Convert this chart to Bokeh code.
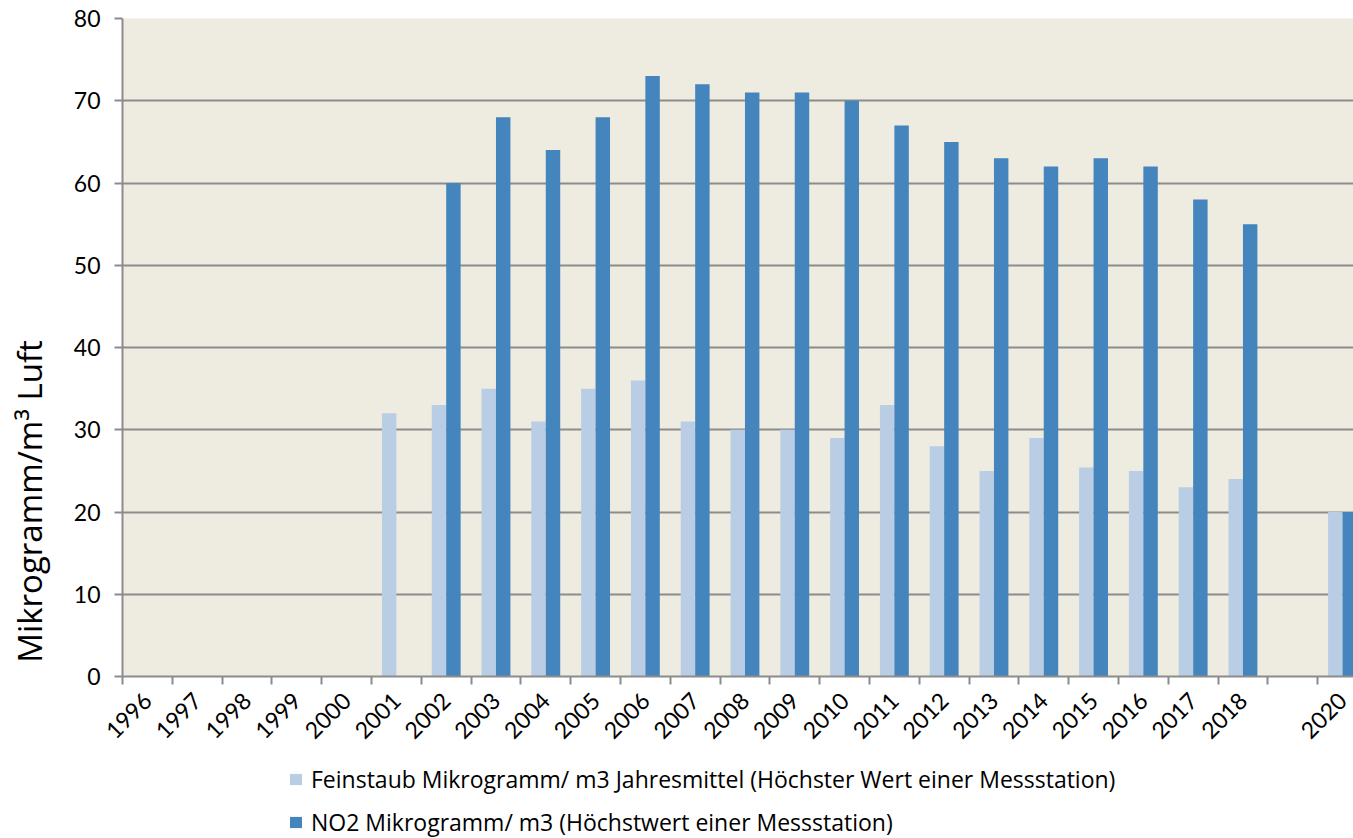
import math
from bokeh.plotting import figure
from bokeh.layouts import row, column
from bokeh.models import (Range1d, FixedTicker, Legend, LegendItem, Label,
                          ColumnDataSource)
from bokeh.embed import file_html
from bokeh.resources import INLINE

# ---- data -------------------------------------------------------------
years = ["1996", "1997", "1998", "1999", "2000", "2001", "2002", "2003",
         "2004", "2005", "2006", "2007", "2008", "2009", "2010", "2011",
         "2012", "2013", "2014", "2015", "2016", "2017", "2018", "", "2020"]
feinstaub = [None, None, None, None, None, 32, 33, 35, 31, 35, 36, 31, 30,
             30, 29, 33, 28, 25, 29, 25.4, 25, 23, 24, None, 20]
no2 = [None, None, None, None, None, None, 60, 68, 64, 68, 73, 72, 71, 71,
       70, 67, 65, 63, 62, 63, 62, 58, 55, None, 20]
yticks = [0, 10, 20, 30, 40, 50, 60, 70, 80]

label_fs = "Feinstaub Mikrogramm/ m3 Jahresmittel (Höchster Wert einer Messstation)"
label_no2 = "NO2 Mikrogramm/ m3 (Höchstwert einer Messstation)"
ylabel = "Mikrogramm/m³ Luft"

# ---- style ------------------------------------------------------------
FONT = "Lato"
FONT2 = "Open Sans"
LIGHT = "#B9CDE5"
DARK = "#4485BD"
GRID = "#8C8C8C"
BG = "#EEEBE0"
BAR_W = 0.29
LEFT_W = 60
MAIN_H = 760
TOTAL_W, TOTAL_H = 1353, 838

centers = [i + 0.5 for i in range(len(years))]
bounds = [float(i) for i in range(len(years) + 1)]

src_fs = ColumnDataSource(dict(
    x=[c - BAR_W / 2 for c, v in zip(centers, feinstaub) if v is not None],
    top=[v for v in feinstaub if v is not None]))
src_no2 = ColumnDataSource(dict(
    x=[c + BAR_W / 2 for c, v in zip(centers, no2) if v is not None],
    top=[v for v in no2 if v is not None]))

# ---- main chart ---------------------------------------------------------
p = figure(width=TOTAL_W - LEFT_W, height=MAIN_H, output_backend="svg",
           toolbar_location=None,
           x_range=Range1d(0, 24.72), y_range=Range1d(0, 80),
           min_border_left=122 - LEFT_W, min_border_right=0, min_border_top=18,
           min_border_bottom=MAIN_H - 676, background_fill_color=BG,
           border_fill_color="white", outline_line_color=None)

p.vbar(x="x", top="top", bottom=0, width=BAR_W, source=src_fs,
       fill_color=LIGHT, line_color=None)
p.vbar(x="x", top="top", bottom=0, width=BAR_W, source=src_no2,
       fill_color=DARK, line_color=None)

p.xgrid.visible = False
p.ygrid.ticker = FixedTicker(ticks=yticks)
p.ygrid.grid_line_color = GRID
p.ygrid.grid_line_width = 2
p.ygrid.level = "underlay"

ya = p.yaxis[0]
ya.ticker = FixedTicker(ticks=yticks)
ya.axis_line_color = GRID
ya.axis_line_width = 2
ya.major_tick_line_color = GRID
ya.major_tick_line_width = 2
ya.major_tick_out = 8
ya.major_tick_in = 0
ya.minor_tick_line_color = None
ya.major_label_standoff = 14
ya.major_label_text_font = FONT
ya.major_label_text_font_size = "23px"
ya.major_label_text_color = "black"

xa = p.xaxis[0]
xa.ticker = FixedTicker(ticks=centers, minor_ticks=bounds)
xa.major_label_overrides = {c: y for c, y in zip(centers, years)}
xa.major_tick_line_color = None
xa.major_tick_out = 0
xa.major_tick_in = 0
xa.minor_tick_line_color = GRID
xa.minor_tick_line_width = 2
xa.minor_tick_out = 8
xa.minor_tick_in = 0
xa.axis_line_color = GRID
xa.axis_line_width = 2
xa.major_label_orientation = math.pi / 4
xa.major_label_standoff = 12
xa.major_label_text_font = FONT
xa.major_label_text_font_size = "23px"
xa.major_label_text_color = "black"

# ---- y-axis title strip ---------------------------------------------------
lf = figure(width=LEFT_W, height=TOTAL_H, output_backend="svg",
            toolbar_location=None, x_axis_type=None, y_axis_type=None,
            x_range=Range1d(0, LEFT_W), y_range=Range1d(TOTAL_H, 0),
            min_border=0, outline_line_color=None,
            background_fill_color="white", border_fill_color="white")
lf.grid.visible = False
lf.add_layout(Label(x=29, y=501, text=ylabel, angle=math.pi / 2,
                    text_align="center", text_baseline="middle",
                    text_font=FONT2, text_font_size="33px",
                    text_color="black"))

# ---- legend strip -------------------------------------------------------
lg = figure(width=TOTAL_W - LEFT_W, height=TOTAL_H - MAIN_H,
            output_backend="svg", toolbar_location=None,
            x_axis_type=None, y_axis_type=None,
            x_range=Range1d(0, 1), y_range=Range1d(0, 1),
            min_border=0, outline_line_color=None,
            background_fill_color="white", border_fill_color="white")
lg.grid.visible = False
# legend swatches only: placeholder bars with no drawable height
nan = float("nan")
d1 = lg.vbar(x=[nan], bottom=[nan], top=[nan], width=0.1,
             fill_color=LIGHT, line_color=None)
d2 = lg.vbar(x=[nan], bottom=[nan], top=[nan], width=0.1,
             fill_color=DARK, line_color=None)
legend = Legend(items=[LegendItem(label=label_fs, renderers=[d1]),
                       LegendItem(label=label_no2, renderers=[d2])],
                location=(166, 0), orientation="vertical",
                glyph_width=15, glyph_height=14, label_standoff=8,
                label_height=32, spacing=11, padding=0, margin=0,
                border_line_color=None, background_fill_alpha=0,
                label_text_font=FONT2, label_text_font_size="23px",
                label_text_color="black")
lg.add_layout(legend, "center")

layout = row(lf, column(p, lg))
open("out.html", "w").write(file_html(layout, INLINE))
